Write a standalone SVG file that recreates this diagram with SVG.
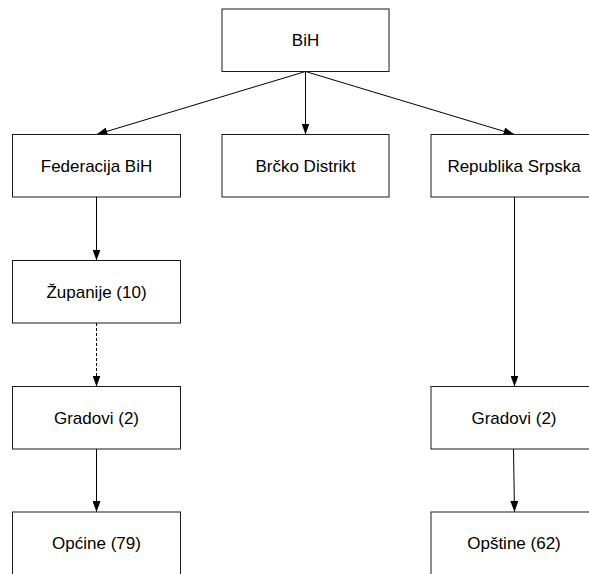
<svg xmlns="http://www.w3.org/2000/svg" width="589" height="574" viewBox="0 0 589 574">
<style>
.box{fill:#ffffff;stroke:#1a1a1a;stroke-width:1}
.lbl{font-family:"Liberation Sans",Arial,sans-serif;font-size:17px;fill:#000;text-anchor:middle}
.edge{fill:none;stroke:#000;stroke-width:1}
.dash{stroke-dasharray:3,2}
</style>
<defs>
<marker id="arr" markerUnits="userSpaceOnUse" markerWidth="11" markerHeight="8" refX="11" refY="4" orient="auto">
<path d="M0,0 L11,4 L0,8 z" fill="#000"/>
</marker>
</defs>
<rect width="589" height="574" fill="#ffffff"/>
<g id="connectors">
<path class="edge" d="M305.5,71.5 L96.5,134.5" marker-end="url(#arr)"/>
<path class="edge" d="M305.5,71.5 L305.5,134.5" marker-end="url(#arr)"/>
<path class="edge" d="M305.5,71.5 L514.5,134.5" marker-end="url(#arr)"/>
<path class="edge" d="M96.5,197 L96.5,260.5" marker-end="url(#arr)"/>
<path class="edge dash" d="M96.5,323 L96.5,386.5" marker-end="url(#arr)"/>
<path class="edge" d="M96.5,449 L96.5,512" marker-end="url(#arr)"/>
<path class="edge" d="M514.5,197 L514.5,386.5" marker-end="url(#arr)"/>
<path class="edge" d="M513.5,449 L514.5,512" marker-end="url(#arr)"/>
</g>
<g id="bih"><rect class="box" x="222" y="9" width="167" height="62.5"/><text class="lbl" x="305.5" y="46">BiH</text></g>
<g id="federacija"><rect class="box" x="12.5" y="134.5" width="168" height="62.5"/><text class="lbl" x="96.5" y="171.5">Federacija BiH</text></g>
<g id="brcko"><rect class="box" x="222" y="134.5" width="167" height="62.5"/><text class="lbl" x="305.5" y="171.5">Brčko Distrikt</text></g>
<g id="republika"><rect class="box" x="431" y="134.5" width="167" height="62.5"/><text class="lbl" x="514" y="171.5">Republika Srpska</text></g>
<g id="zupanije"><rect class="box" x="12.5" y="260.5" width="168" height="62.5"/><text class="lbl" x="96.5" y="297.5">Županije (10)</text></g>
<g id="gradovi-fbih"><rect class="box" x="12.5" y="386.5" width="168" height="62.5"/><text class="lbl" x="96.5" y="423.5">Gradovi (2)</text></g>
<g id="gradovi-rs"><rect class="box" x="431" y="386.5" width="167" height="62.5"/><text class="lbl" x="514" y="423.5">Gradovi (2)</text></g>
<g id="opcine"><rect class="box" x="12.5" y="512" width="168" height="62.5"/><text class="lbl" x="96.5" y="549">Općine (79)</text></g>
<g id="opstine"><rect class="box" x="431" y="512" width="167" height="62.5"/><text class="lbl" x="514" y="549">Opštine (62)</text></g>
</svg>
